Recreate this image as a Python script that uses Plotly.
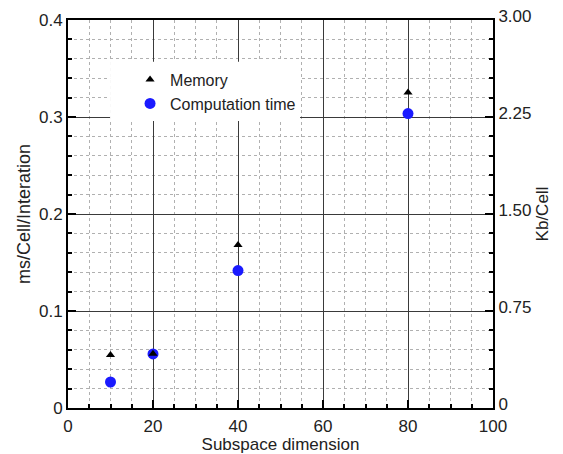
import plotly.graph_objects as go

subspace_dim = [10, 20, 40, 80]
memory_kb = [0.41, 0.42, 1.26, 2.44]
comp_time_ms = [0.0268, 0.0557, 0.1417, 0.3035]

x_ticks = [0, 20, 40, 60, 80, 100]
y_ticks = [0, 0.1, 0.2, 0.3, 0.4]
y2_ticks = [0, 0.75, 1.5, 2.25, 3.0]
y2_labels = ["0", "0.75", "1.50", "2.25", "3.00"]

FONT = "Arial, Liberation Sans, sans-serif"
MAJOR = "#3a3a3a"
MINOR = "#b0b0b0"
TXT = "#222"

fig = go.Figure()
fig.add_trace(go.Scatter(
    x=subspace_dim, y=memory_kb, mode="markers", name="Memory", yaxis="y2",
    marker=dict(symbol="triangle-up", size=8, color="black"),
))
fig.add_trace(go.Scatter(
    x=subspace_dim, y=comp_time_ms, mode="markers", name="Computation time",
    marker=dict(symbol="circle", size=11, color="#1a1aff"),
))

# white legend backdrop covering grid
fig.add_shape(type="rect", xref="x", yref="y", x0=9.9, x1=54.6, y0=0.296, y1=0.357,
              fillcolor="white", line=dict(width=0), layer="between")

axis_common = dict(
    showline=True, linecolor="black", linewidth=2,
    ticks="inside", ticklen=8, tickwidth=2, tickcolor="black",
    tickfont=dict(family=FONT, size=17, color=TXT),
    zeroline=False, automargin=False,
)

fig.update_layout(
    width=563, height=454,
    margin=dict(l=68, r=70, t=20, b=46),
    paper_bgcolor="white", plot_bgcolor="white",
    showlegend=True,
    legend=dict(x=0.146, y=0.89, xanchor="left", yanchor="top",
                bgcolor="rgba(0,0,0,0)", borderwidth=0,
                font=dict(family=FONT, size=16, color=TXT),
                tracegroupgap=0, itemwidth=30),
    xaxis=dict(
        range=[0, 100], tickvals=x_ticks, mirror=True,
        showgrid=True, gridcolor=MAJOR, gridwidth=1,
        minor=dict(dtick=5, ticks="inside", ticklen=4, tickcolor="black",
                   showgrid=True, gridcolor=MINOR, griddash="dot", gridwidth=1),
        ticklabelstandoff=2,
        title=dict(text="Subspace dimension", font=dict(family=FONT, size=17, color=TXT), standoff=6),
        **axis_common,
    ),
    yaxis=dict(
        range=[0, 0.4], tickvals=y_ticks,
        showgrid=True, gridcolor=MAJOR, gridwidth=1,
        minor=dict(dtick=0.02, ticks="inside", ticklen=4, tickcolor="black",
                   showgrid=True, gridcolor=MINOR, griddash="dot", gridwidth=1),
        title=dict(text="ms/Cell/Interation", font=dict(family=FONT, size=18, color=TXT), standoff=4),
        **axis_common,
    ),
    yaxis2=dict(
        range=[0, 3], tickvals=y2_ticks, ticktext=y2_labels,
        overlaying="y", side="right", showgrid=False,
        minor=dict(dtick=0.15, ticks="inside", ticklen=4, tickcolor="black"),
        ticklabelshift=-4,
        title=dict(text="Kb/Cell", font=dict(family=FONT, size=17, color=TXT), standoff=6),
        **axis_common,
    ),
)

fig.write_html("out.html")
